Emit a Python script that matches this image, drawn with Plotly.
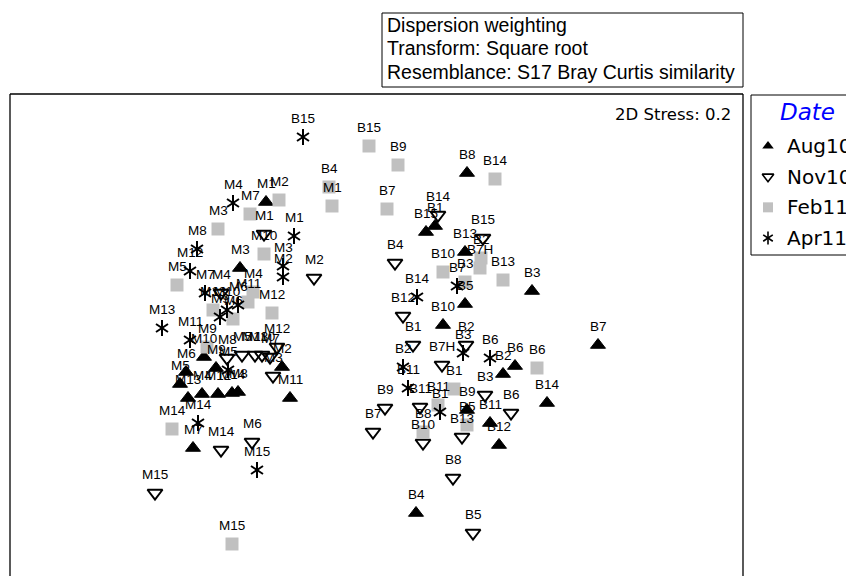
import plotly.graph_objects as go

# ---- data (MDS coordinates) ----
aug_labels = ["M1","M3","M10","M6","M9","M2","M5","M13","M4","M12","M14","M8","M11","M7",
              "B8","B1","B15","B13","B3","B5","B10","B7","B6","B2","B9","B11","B14","B12","B4"]
aug_x = [-1.11,-1.37,-1.73,-1.91,-1.61,-0.95,-1.97,-1.89,-1.75,-1.59,-1.45,-1.39,-0.87,-1.84,
         0.90,0.58,0.49,0.88,1.55,0.88,0.66,2.21,1.38,1.26,0.90,1.13,1.70,1.22,0.39]
aug_y = [1.33,0.67,-0.22,-0.37,-0.33,-0.32,-0.49,-0.63,-0.59,-0.59,-0.58,-0.57,-0.63,-1.13,
         1.62,1.09,1.03,0.83,0.44,0.31,0.10,-0.10,-0.31,-0.39,-0.75,-0.88,-0.68,-1.10,-1.78]

nov_labels = ["M1","M2","M4","M12","M8","M5","M13","M10","M7","M3","M14","M6","M15",
              "B14","B15","B4","B12","B1","B2","B7H","B3","B9","B11","B6","B7","B10","B13","B8","B5"]
nov_x = [-1.13,-0.63,-1.56,-1.00,-1.50,-1.35,-1.22,-1.15,-1.07,-1.04,-1.56,-1.25,-2.22,
         0.61,1.06,0.18,0.26,0.36,0.89,0.65,1.08,0.08,0.43,1.34,-0.04,0.46,0.85,0.76,0.96]
nov_y = [1.01,0.57,0.42,-0.12,-0.23,-0.20,-0.20,-0.20,-0.22,-0.41,-1.15,-1.07,-1.58,
         1.20,0.97,0.72,0.19,-0.10,-0.10,-0.30,-0.60,-0.73,-0.72,-0.78,-0.97,-1.08,-1.02,-1.43,-1.98]

feb_labels = ["M1","M2","M7","M3","M10","M5","M4","M11","M13","M6","M12","M9","M14","M15",
              "B15","B9","B14","B4","B7","B10","B2","B7H","B13","B3","B6","B1","B11","B5","B8"]
feb_x = [-0.45,-0.98,-1.27,-1.59,-1.13,-2.00,-1.24,-1.29,-1.64,-1.44,-1.05,-1.70,-2.05,-1.45,
         -0.08,0.21,1.18,-0.48,0.10,0.66,1.04,1.03,1.26,0.88,1.60,0.77,0.61,0.90,0.46]
feb_y = [1.29,1.35,1.21,1.06,0.81,0.50,0.43,0.33,0.25,0.16,0.22,-0.12,-0.94,-2.09,
         1.89,1.70,1.56,1.48,1.26,0.63,0.77,0.67,0.55,0.53,-0.33,-0.54,-0.70,-0.90,-0.97]

apr_labels = ["M4","M1","M8","M3","M2","M12","M7","M6","M10","M9","M13","M11","M5","M14","M15",
              "B15","B14","B7","B3","B2","B6","B11","B1"]
apr_x = [-1.44,-0.83,-1.80,-0.94,-0.94,-1.87,-1.72,-1.39,-1.50,-1.57,-2.15,-1.87,-1.49,-1.79,-1.20,
         -0.74,0.40,0.80,0.86,0.26,1.13,0.31,0.63]
apr_y = [1.32,0.99,0.86,0.69,0.58,0.64,0.42,0.30,0.25,0.18,0.07,-0.05,-0.35,-0.88,-1.35,
         1.98,0.38,0.49,-0.18,-0.32,-0.23,-0.53,-0.77]

legend_names = ["Aug10", "Nov10", "Feb11", "Apr11"]
info_lines = ["Dispersion weighting", "Transform: Square root",
              "Resemblance: S17 Bray Curtis similarity"]
stress_text = "2D Stress: 0.2"

FONT = "Liberation Sans, Arial, sans-serif"
WIDE = "DejaVu Sans, Verdana, sans-serif"
GREY = "#C0C0C0"

fig = go.Figure()

# main plot markers
fig.add_trace(go.Scatter(x=aug_x, y=aug_y, mode="markers", showlegend=False,
                         marker=dict(symbol="triangle-up", size=13, color="black",
                                     line=dict(color="black", width=1))))
fig.add_trace(go.Scatter(x=nov_x, y=nov_y, mode="markers", showlegend=False,
                         marker=dict(symbol="triangle-down-open", size=13, color="black",
                                     line=dict(color="black", width=2))))
fig.add_trace(go.Scatter(x=feb_x, y=feb_y, mode="markers", showlegend=False,
                         marker=dict(symbol="square", size=13, color=GREY,
                                     line=dict(width=0))))
for sym in ["y-up-open", "y-down-open"]:
    fig.add_trace(go.Scatter(x=apr_x, y=apr_y, mode="markers", showlegend=False,
                             marker=dict(symbol=sym, size=10, color="black",
                                         line=dict(color="black", width=2))))

# point labels
annotations = []
for labs, xs, ys in [(aug_labels, aug_x, aug_y), (nov_labels, nov_x, nov_y),
                     (feb_labels, feb_x, feb_y), (apr_labels, apr_x, apr_y)]:
    for t, xv, yv in zip(labs, xs, ys):
        annotations.append(dict(x=xv, y=yv, xref="x", yref="y", text=t, showarrow=False,
                                xanchor="center", yanchor="middle", yshift=18.5,
                                font=dict(family=FONT, size=13.5, color="black")))

# legend (own axes)
leg_rows = list(range(len(legend_names)))
leg_x = [0.165] * len(legend_names)
fig.add_trace(go.Scatter(x=[leg_x[0]], y=[leg_rows[0]], xaxis="x2", yaxis="y2", mode="markers",
                         showlegend=False,
                         marker=dict(symbol="triangle-up", size=10, color="black")))
fig.add_trace(go.Scatter(x=[leg_x[1]], y=[leg_rows[1]], xaxis="x2", yaxis="y2", mode="markers",
                         showlegend=False,
                         marker=dict(symbol="triangle-down-open", size=10, color="black",
                                     line=dict(color="black", width=1.6))))
fig.add_trace(go.Scatter(x=[leg_x[2]], y=[leg_rows[2]], xaxis="x2", yaxis="y2", mode="markers",
                         showlegend=False,
                         marker=dict(symbol="square", size=10, color=GREY)))
for sym in ["y-up-open", "y-down-open"]:
    fig.add_trace(go.Scatter(x=[leg_x[3]], y=[leg_rows[3]], xaxis="x2", yaxis="y2", mode="markers",
                             showlegend=False,
                             marker=dict(symbol=sym, size=8, color="black",
                                         line=dict(color="black", width=1.6))))
for name, r in zip(legend_names, leg_rows):
    annotations.append(dict(x=0.33, y=r, xref="x2", yref="y2", text=name, showarrow=False,
                            xanchor="left", yanchor="middle",
                            font=dict(family=WIDE, size=20, color="black")))
annotations.append(dict(x=0.55, y=-1.11, xref="x2", yref="y2", text="<i>Date</i>",
                        showarrow=False, xanchor="center", yanchor="middle",
                        font=dict(family=WIDE, size=23, color="#0000FF")))

# info box text
for line, yy in zip(info_lines, [1.1432, 1.0954, 1.0456]):
    annotations.append(dict(x=0.4443, y=yy, xref="paper", yref="paper", text=line,
                            showarrow=False, xanchor="left", yanchor="middle",
                            font=dict(family=FONT, size=19.5, color="black")))
annotations.append(dict(x=0.8566, y=0.9585, xref="paper", yref="paper", text=stress_text,
                        showarrow=False, xanchor="right", yanchor="middle",
                        font=dict(family=WIDE, size=16.5, color="black")))

XR = 733 / 844
LX0 = 741 / 844
LY0 = (576 - 255) / 482
LY1 = (576 - 95) / 482
line_style = dict(color="black", width=1.3)
box_style = dict(color="black", width=1)
shapes = [
    # plot frame (bottom edge lies below the visible page)
    dict(type="line", xref="paper", yref="paper", x0=0, x1=0, y0=-0.05, y1=1, line=line_style),
    dict(type="line", xref="paper", yref="paper", x0=0, x1=XR, y0=1, y1=1, line=line_style),
    dict(type="line", xref="paper", yref="paper", x0=XR, x1=XR, y0=-0.05, y1=1, line=line_style),
    # legend box (right edge lies beyond the page)
    dict(type="line", xref="paper", yref="paper", x0=LX0, x1=LX0, y0=LY0, y1=LY1, line=box_style),
    dict(type="line", xref="paper", yref="paper", x0=LX0, x1=1.0, y0=LY1, y1=LY1, line=box_style),
    dict(type="line", xref="paper", yref="paper", x0=LX0, x1=1.0, y0=LY0, y1=LY0, line=box_style),
    # info box
    dict(type="rect", xref="paper", yref="paper", x0=372 / 844, x1=XR,
         y0=(576 - 87) / 482, y1=(576 - 13) / 482, line=box_style),
]

# page body adds an 8px margin, so the figure is 8px smaller and shifted
fig.update_layout(
    width=846, height=568,
    margin=dict(l=2, r=0, t=86, b=0),
    paper_bgcolor="white", plot_bgcolor="rgba(0,0,0,0)",
    xaxis=dict(domain=[0, XR], range=[-3.67, 3.66], visible=False),
    yaxis=dict(domain=[0, 1], range=[-2.41, 2.41], visible=False),
    xaxis2=dict(domain=[LX0, 1], range=[0, 1], visible=False, anchor="y2"),
    yaxis2=dict(domain=[LY0, 1], range=[3.554, -1.695], visible=False, anchor="x2"),
    annotations=annotations,
    shapes=shapes,
    showlegend=False,
)

fig.write_html("out.html")
